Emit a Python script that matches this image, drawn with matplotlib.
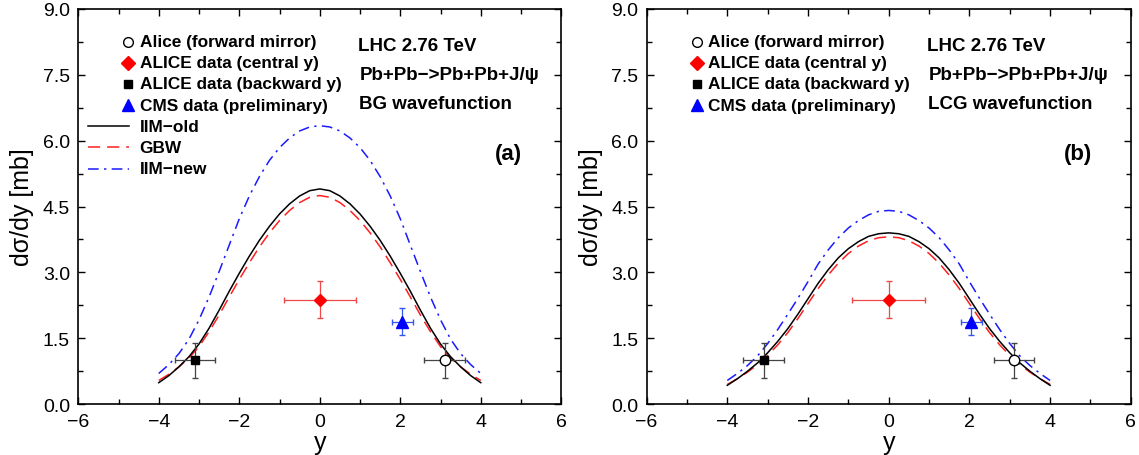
import matplotlib
matplotlib.use("Agg")
import matplotlib.pyplot as plt
from matplotlib.ticker import MultipleLocator, FormatStrFormatter

plt.rcParams['font.family'] = ['Liberation Sans', 'DejaVu Sans']
plt.rcParams['axes.unicode_minus'] = True

# rapidity grid of the model curves
rap = [-4.0, -3.75, -3.5, -3.25, -3.0, -2.75, -2.5, -2.25, -2.0, -1.75, -1.5, -1.25,
       -1.0, -0.75, -0.5, -0.25, 0.0, 0.25, 0.5, 0.75, 1.0, 1.25, 1.5, 1.75,
       2.0, 2.25, 2.5, 2.75, 3.0, 3.25, 3.5, 3.75, 4.0]

# panel (a): BG wavefunction
iim_old_a = [0.49, 0.65, 0.85, 1.08, 1.37, 1.73, 2.14, 2.57, 2.98, 3.37, 3.73, 4.05, 4.33, 4.56, 4.74, 4.86, 4.90,
             4.86, 4.74, 4.56, 4.33, 4.05, 3.73, 3.37, 2.98, 2.57, 2.14, 1.73, 1.37, 1.08, 0.85, 0.65, 0.49]
gbw_a = [0.54, 0.68, 0.85, 1.05, 1.31, 1.65, 2.03, 2.44, 2.84, 3.22, 3.58, 3.90, 4.18, 4.41, 4.59, 4.71, 4.75,
         4.71, 4.59, 4.41, 4.18, 3.90, 3.58, 3.22, 2.84, 2.44, 2.03, 1.65, 1.31, 1.05, 0.85, 0.68, 0.54]
iim_new_a = [0.70, 0.90, 1.15, 1.48, 1.92, 2.44, 3.02, 3.62, 4.22, 4.74, 5.18, 5.55, 5.84, 6.06, 6.22, 6.31, 6.34,
             6.31, 6.22, 6.06, 5.84, 5.55, 5.18, 4.74, 4.22, 3.62, 3.02, 2.44, 1.92, 1.48, 1.15, 0.90, 0.70]

# panel (b): LCG wavefunction
iim_old_b = [0.43, 0.58, 0.75, 0.94, 1.17, 1.43, 1.72, 2.05, 2.40, 2.75, 3.06, 3.33, 3.54, 3.70, 3.82, 3.88, 3.90,
             3.88, 3.82, 3.70, 3.54, 3.33, 3.06, 2.75, 2.40, 2.05, 1.72, 1.43, 1.17, 0.94, 0.75, 0.58, 0.43]
gbw_b = [0.45, 0.58, 0.73, 0.90, 1.11, 1.35, 1.63, 1.95, 2.29, 2.63, 2.94, 3.21, 3.43, 3.60, 3.72, 3.79, 3.81,
         3.79, 3.72, 3.60, 3.43, 3.21, 2.94, 2.63, 2.29, 1.95, 1.63, 1.35, 1.11, 0.90, 0.73, 0.58, 0.45]
iim_new_b = [0.54, 0.70, 0.88, 1.10, 1.38, 1.70, 2.05, 2.41, 2.79, 3.19, 3.51, 3.79, 4.01, 4.18, 4.31, 4.39, 4.41,
             4.39, 4.31, 4.18, 4.01, 3.79, 3.51, 3.19, 2.79, 2.41, 2.05, 1.70, 1.38, 1.10, 0.88, 0.70, 0.54]

# data points: (y, dsigma/dy, xerr, yerr)
alice_fwd = (3.1, 1.0, 0.5, 0.4)
alice_cen = (0.0, 2.38, 0.9, 0.42)
alice_bwd = (-3.1, 1.0, 0.5, 0.4)
cms_pre = (2.05, 1.88, 0.26, 0.3)

legend_data = ["Alice (forward mirror)", "ALICE data (central y)",
               "ALICE data (backward y)", "CMS data (preliminary)"]
legend_lines = ["IIM\u2212old", "GBW", "IIM\u2212new"]


def draw_panel(ax, old, gbw, new, wf, tag, show_lines):
    ax.plot(rap, new, color='#1a1aff', lw=1.1, ls=(0, (7, 3.5, 1.5, 3.5)))
    ax.plot(rap, gbw, color='#ff2020', lw=1.1, ls=(0, (8, 4.5)))
    ax.plot(rap, old, color='black', lw=1.1)

    # data
    x, y, xe, ye = alice_fwd
    ax.errorbar(x, y, xerr=xe, yerr=ye, fmt='o', ms=7.5, mfc='white', mec='black',
                ecolor='#444444', elinewidth=0.9, capsize=2.5, zorder=5)
    x, y, xe, ye = alice_bwd
    ax.errorbar(x, y, xerr=xe, yerr=ye, fmt='s', ms=5.5, mfc='black', mec='black',
                ecolor='#444444', elinewidth=0.9, capsize=2.5, zorder=5)
    x, y, xe, ye = alice_cen
    ax.errorbar(x, y, xerr=xe, yerr=ye, fmt='D', ms=6.5, mfc='red', mec='red',
                ecolor='#f04848', elinewidth=0.9, capsize=2.5, zorder=5)
    x, y, xe, ye = cms_pre
    ax.errorbar(x, y, xerr=xe, yerr=ye, fmt='^', ms=8, mfc='blue', mec='blue',
                ecolor='#3355ee', elinewidth=0.9, capsize=2.5, zorder=5)

    ax.set_xlim(-6, 6)
    ax.set_ylim(0, 9)
    ax.xaxis.set_major_locator(MultipleLocator(2))
    ax.xaxis.set_minor_locator(MultipleLocator(1))
    ax.yaxis.set_major_locator(MultipleLocator(1.5))
    ax.yaxis.set_minor_locator(MultipleLocator(0.75))
    ax.yaxis.set_major_formatter(FormatStrFormatter('%.1f'))
    ax.tick_params(which='both', direction='in', top=True, right=True, labelsize=14, pad=6)
    ax.tick_params(which='major', length=5, width=1.0)
    ax.tick_params(which='minor', length=3.5, width=1.0)
    for s in ax.spines.values():
        s.set_linewidth(1.2)
    ax.set_xlabel("y", fontsize=18, labelpad=0)
    ax.set_ylabel("d\u03c3/dy [mb]", fontsize=18, labelpad=6)

    # legend drawn by hand to keep markers at the right of the handle
    tr = ax.transAxes
    rows = [0.917 - i * 0.0535 for i in range(7)]
    mx, tx = 0.104, 0.127
    ax.plot([mx], [rows[0]], 'o', ms=7, mfc='white', mec='black', mew=1.0, transform=tr, clip_on=False)
    ax.plot([mx], [rows[1]], 'D', ms=7, color='red', transform=tr, clip_on=False)
    ax.plot([mx], [rows[2]], 's', ms=5.5, color='black', transform=tr, clip_on=False)
    ax.plot([mx], [rows[3]], '^', ms=8.5, color='blue', transform=tr, clip_on=False)
    for i, lab in enumerate(legend_data):
        ax.text(tx, rows[i], lab, transform=tr, fontsize=12.4, fontweight='bold', va='center', ha='left')
    if show_lines:
        hx = [0.021, 0.106]
        ax.plot(hx, [rows[4]] * 2, color='black', lw=1.1, transform=tr)
        ax.plot(hx, [rows[5]] * 2, color='#ff2020', lw=1.1, ls=(0, (8, 4.5)), transform=tr)
        ax.plot(hx, [rows[6]] * 2, color='#1a1aff', lw=1.1, ls=(0, (7, 3.5, 1.5, 3.5)), transform=tr)
        for i, lab in enumerate(legend_lines):
            ax.text(tx, rows[4 + i], lab, transform=tr, fontsize=12.4, fontweight='bold',
                    va='center', ha='left')

    ax.text(0.58, 0.907, "LHC 2.76 TeV", transform=tr, fontsize=13.5, fontweight='bold', va='center')
    ax.text(0.582, 0.834, "Pb+Pb\u2212>Pb+Pb+J/\u03c8", transform=tr, fontsize=13.5, fontweight='bold',
            va='center')
    ax.text(0.582, 0.761, wf, transform=tr, fontsize=13.5, fontweight='bold', va='center')
    ax.text(0.89, 0.633, tag, transform=tr, fontsize=16, fontweight='bold', va='center', ha='center')


fig = plt.figure(figsize=(11.39, 4.56), dpi=100)
ax1 = fig.add_axes([0.0687, 0.1114, 0.4241, 0.8671])
ax2 = fig.add_axes([0.5677, 0.1114, 0.4251, 0.8671])

draw_panel(ax1, iim_old_a, gbw_a, iim_new_a, "BG wavefunction", "(a)", True)
draw_panel(ax2, iim_old_b, gbw_b, iim_new_b, "LCG wavefunction", "(b)", False)

fig.savefig("out.png", dpi=100)
